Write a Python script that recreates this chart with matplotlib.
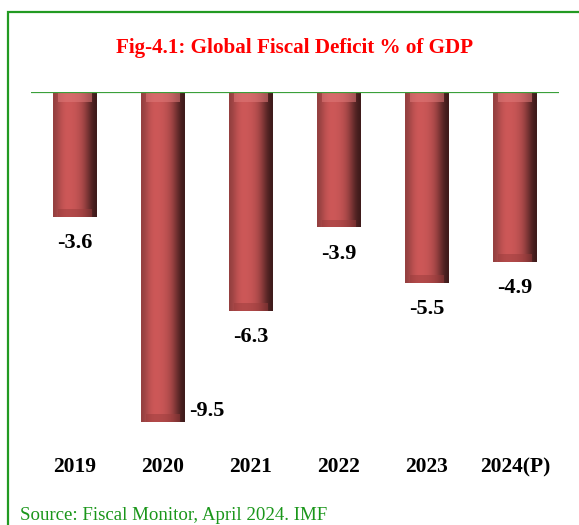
import numpy as np
import matplotlib
matplotlib.use("Agg")
import matplotlib.pyplot as plt
from matplotlib.patches import Rectangle

# data
years = ["2019", "2020", "2021", "2022", "2023", "2024(P)"]
deficit = [-3.6, -9.5, -6.3, -3.9, -5.5, -4.9]

plt.rcParams['font.family'] = ['Liberation Serif', 'DejaVu Serif']

W, H = 579, 525
fig = plt.figure(figsize=(W / 100, H / 100), dpi=100)

# axes placed so that zero sits on the green line near the top
ax = fig.add_axes([31 / W, 1 - 439 / H, 528 / W, 347 / H])
x = np.arange(len(years))
bars = ax.bar(x, deficit, width=0.49, color='#c85656', edgecolor='none', zorder=2)

# horizontal shading to give the bars a rounded, bevelled look
grad = np.array([0.72, 0.9, 1.0, 1.0, 0.97, 0.9, 0.75, 0.5, 0.3])
base = np.array([205, 88, 88]) / 255.0
img = np.clip(grad[:, None] * base[None, :], 0, 1)[None, :, :]
for b in bars:
    x0, w = b.get_x(), b.get_width()
    y1 = b.get_height()
    im = ax.imshow(img, extent=[x0, x0 + w, y1, 0], aspect='auto',
                   interpolation='bicubic', zorder=3)
    im.set_clip_path(b)
    # lighter top cap and darker bottom cap
    ax.bar(b.get_x() + w / 2, -0.28, width=w * 0.8, color='#e07a7a',
           zorder=4, edgecolor='none', alpha=0.55)
    ax.bar(b.get_x() + w / 2, 0.22, bottom=y1, width=w * 0.8,
           color='#9a3c3c', zorder=4, edgecolor='none', alpha=0.5)

ax.axhline(0, color='#3aa03a', lw=1.6, zorder=5)

# value labels
for i, v in enumerate(deficit):
    if i == 1:
        ax.annotate(f"{v}", (x[i] + 0.245, v), xytext=(3, 8),
                    textcoords='offset points', ha='left', va='center',
                    fontsize=16, fontweight='bold')
    else:
        ax.annotate(f"{v}", (x[i], v), xytext=(0, -19),
                    textcoords='offset points', ha='center', va='center',
                    fontsize=16, fontweight='bold')

ax.set_xlim(-0.5, len(years) - 0.5)
ax.set_ylim(-10, 0)
ax.set_xticks(x)
ax.set_xticklabels(years, fontsize=15.5, fontweight='bold')
ax.tick_params(axis='x', length=0, pad=13)
ax.set_yticks([])
for s in ax.spines.values():
    s.set_visible(False)
ax.patch.set_alpha(0)

fig.text(295 / W, 1 - 48 / H, "Fig-4.1: Global Fiscal Deficit % of GDP",
         color='#ff0000', fontsize=15.2, fontweight='bold', ha='center', va='center')
fig.text(20 / W, 1 - 515 / H, "Source: Fiscal Monitor, April 2024. IMF",
         color='#1a961a', fontsize=13.6, ha='left', va='center')

# green frame around the chart, running past the right and bottom edges
fig.patches.append(Rectangle((8 / W, -0.1), 1.0, 1 - 12 / H + 0.1,
                             transform=fig.transFigure, fill=False,
                             edgecolor='#229a22', lw=1.6))

fig.savefig("out.png", dpi=100, facecolor='white')
